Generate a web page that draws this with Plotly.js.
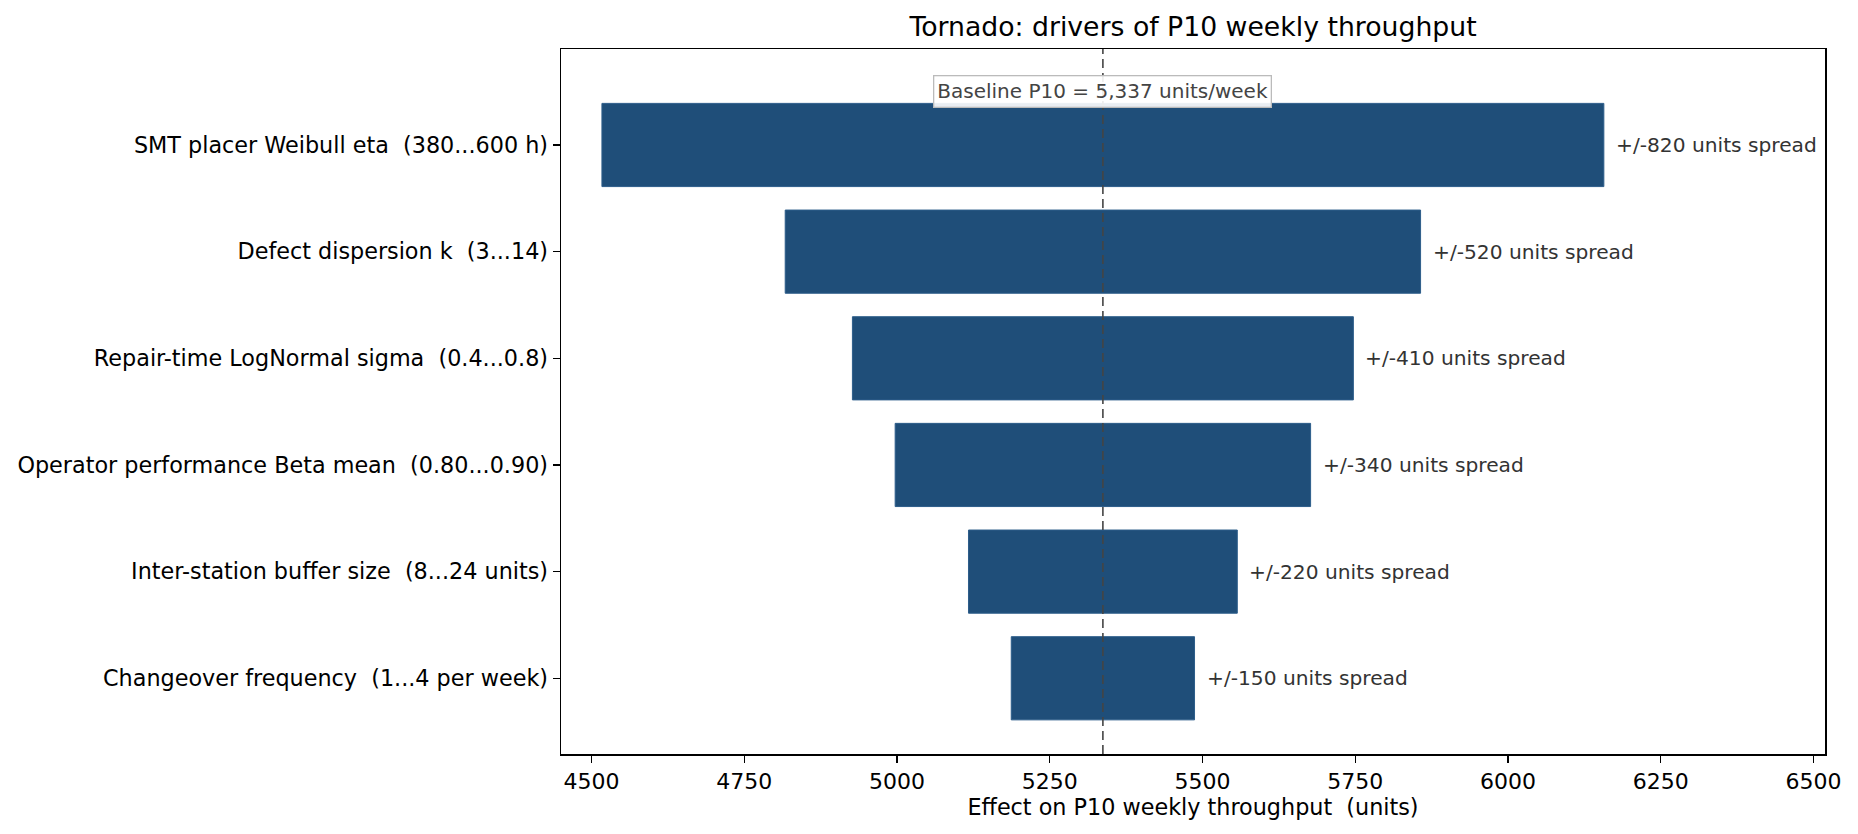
<!DOCTYPE html>
<html>
<head>
<meta charset="utf-8">
<script src="https://cdn.plot.ly/plotly-3.0.1.min.js"></script>
<style>
  html, body { margin: 0; padding: 0; background: #ffffff; }
  #chart { width: 1858px; height: 834px; }
</style>
</head>
<body>
<div id="chart"></div>
<script>
/* ----- Data ------------------------------- */
var drivers = [
    'SMT placer Weibull eta \u00a0(380...600 h)',
    'Defect dispersion k \u00a0(3...14)',
    'Repair-time LogNormal sigma \u00a0(0.4...0.8)',
    'Operator performance Beta mean \u00a0(0.80...0.90)',
    'Inter-station buffer size \u00a0(8...24 units)',
    'Changeover frequency \u00a0(1...4 per week)'
];
var lowValues = [4517, 4817, 4927, 4997, 5117, 5187];   // effect at low end of range
var highValues = [6157, 5857, 5747, 5677, 5557, 5487];  // effect at high end of range
var spreadLabels = [820, 520, 410, 340, 220, 150];      // "+/-" numbers printed next to bars
var baseline = 5337;                                    // Baseline P10 units/week
var xTicks = [4500, 4750, 5000, 5250, 5500, 5750, 6000, 6250, 6500];

var barColor = '#1f4e79';
var fontFamily = '"DejaVu Sans", Verdana, sans-serif';

/* ----- Traces ------- */
var widths = highValues.map(function(h, i) { return h - lowValues[i]; });

var bars = {
    type: 'bar',
    orientation: 'h',
    y: drivers,
    x: widths,
    base: lowValues,
    width: 0.78,
    marker: {
        color: barColor,
        line: {color: '#2d5d8a', width: 1}
    },
    hoverinfo: 'skip',
    showlegend: false
};

/* ----- Annotations ------- */
var annotations = drivers.map(function(d, i) {
    return {
        x: highValues[i],
        y: d,
        xref: 'x',
        yref: 'y',
        text: '+/-' + spreadLabels[i] + ' units spread',
        showarrow: false,
        xanchor: 'left',
        yanchor: 'middle',
        xshift: 10,
        font: {family: fontFamily, size: 20.2, color: '#333333'}
    };
});

annotations.push({
    x: baseline,
    y: 0.94,
    xref: 'x',
    yref: 'paper',
    text: 'Baseline P10 = ' + baseline.toLocaleString('en-US') + ' units/week',
    showarrow: false,
    xanchor: 'center',
    yanchor: 'middle',
    bgcolor: 'rgba(255,255,255,0.9)',
    bordercolor: '#bbbbbb',
    borderwidth: 1.3,
    borderpad: 3,
    font: {family: fontFamily, size: 20, color: '#444444'}
});

/* ----- Layout ------- */
var layout = {
    width: 1858,
    height: 834,
    paper_bgcolor: '#ffffff',
    plot_bgcolor: '#ffffff',
    font: {family: fontFamily, size: 22.3, color: '#000000'},
    margin: {l: 561, r: 33, t: 49, b: 80},
    title: {
        text: 'Tornado: drivers of P10 weekly throughput',
        font: {family: fontFamily, size: 26.7, color: '#000000'},
        x: 0.5,
        xref: 'paper',
        xanchor: 'center',
        y: 0.968,
        yanchor: 'middle',
        yref: 'container'
    },
    xaxis: {
        range: [4450, 6519],
        tickvals: xTicks,
        ticktext: xTicks.map(String),
        ticks: 'outside',
        ticklen: 7,
        tickwidth: 1.3,
        tickcolor: '#000000',
        showgrid: false,
        zeroline: false,
        showline: true,
        linecolor: '#000000',
        linewidth: 1.5,
        mirror: true,
        tickfont: {family: fontFamily, size: 22},
        title: {
            text: 'Effect on P10 weekly throughput \u00a0(units)',
            font: {family: fontFamily, size: 22.3},
            standoff: 4
        }
    },
    yaxis: {
        type: 'category',
        categoryorder: 'array',
        categoryarray: drivers,
        range: [5.71, -0.9],
        ticks: 'outside',
        ticklen: 7,
        tickwidth: 1.3,
        tickcolor: '#000000',
        showgrid: false,
        zeroline: false,
        showline: true,
        linecolor: '#000000',
        linewidth: 1.5,
        mirror: true,
        tickfont: {family: fontFamily, size: 22.3}
    },
    shapes: [{
        type: 'line',
        xref: 'x',
        yref: 'paper',
        x0: baseline,
        x1: baseline,
        y0: 0,
        y1: 1,
        layer: 'above',
        line: {color: '#444444', width: 1.6, dash: '9px,5px'}
    }],
    annotations: annotations,
    bargap: 0.22
};

Plotly.newPlot('chart', [bars], layout, {staticPlot: true, displayModeBar: false});
</script>
</body>
</html>
